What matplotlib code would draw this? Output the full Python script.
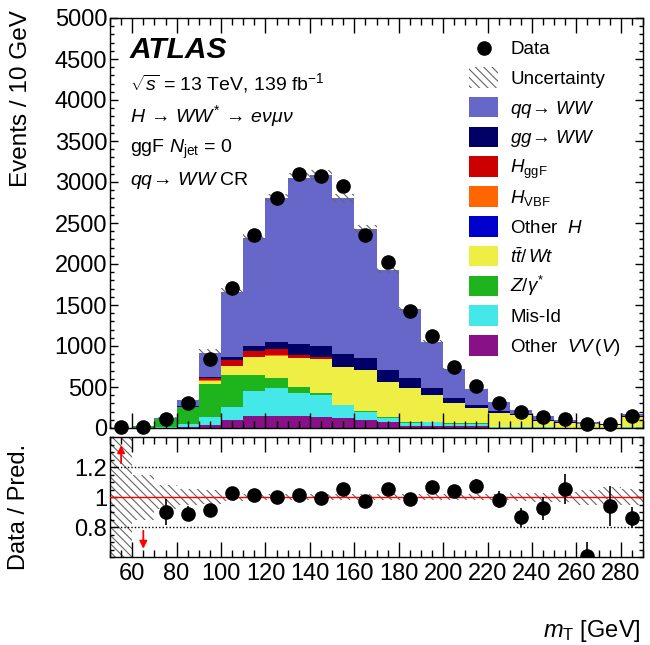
import numpy as np
import matplotlib
matplotlib.use("Agg")
import matplotlib.pyplot as plt
from matplotlib.patches import Rectangle
from matplotlib.lines import Line2D
from matplotlib.ticker import MultipleLocator, FixedLocator, FixedFormatter

plt.rcParams.update({
    "font.family": ["Liberation Sans", "DejaVu Sans"],
    "mathtext.fontset": "custom",
    "mathtext.rm": "Liberation Sans",
    "mathtext.it": "Liberation Sans:italic",
    "mathtext.bf": "Liberation Sans:bold",
    "hatch.linewidth": 0.8,
})

# ---- binning (m_T in GeV) ----
edges = np.arange(50, 300, 10)
centers = 0.5 * (edges[:-1] + edges[1:])

# ---- observed events per bin ----
data = np.array([8, 10, 110, 300, 840, 1711, 2354, 2801, 3097, 3073, 2951, 2354,
                 2028, 1431, 1122, 748, 512, 309, 191, 138, 106, 43, 49, 151])

# ---- expected backgrounds / signal (stack order: bottom -> top) ----
other_vvv = [0, 1, 3, 8, 40, 98, 146, 150, 146, 138, 118, 100,
             70, 30, 30, 22, 20, 6, 5, 3, 2, 2, 2, 4]
mis_id = [1, 2, 6, 35, 90, 162, 305, 334, 277, 264, 163, 93,
          50, 30, 40, 30, 30, 8, 6, 4, 3, 2, 2, 4]
z_gamma = [3, 19, 95, 209, 405, 386, 195, 129, 73, 21, 5, 20,
           15, 8, 7, 5, 5, 2, 1, 1, 0.5, 0.5, 0.5, 1]
top_wt = [0, 1, 3, 10, 42, 110, 214, 265, 354, 418, 455, 490,
          427, 414, 323, 243, 184, 169, 145, 82, 60, 45, 38, 125]
other_h = [0, 0, 0, 1, 2, 3, 4, 4, 3, 3, 2, 2,
           1, 1, 1, 0.5, 0.5, 0.3, 0.3, 0.2, 0.1, 0.1, 0.1, 0.1]
h_vbf = [0, 0, 0, 0.5, 1, 2, 3, 3, 2, 2, 1, 1,
         1, 0.5, 0.5, 0.3, 0.3, 0.2, 0.2, 0.1, 0.1, 0, 0, 0]
h_ggf = [0, 0, 1, 5, 30, 68, 78, 75, 35, 24, 4, 1,
         1, 0.5, 0.5, 0.2, 0.2, 0.1, 0.1, 0.1, 0, 0, 0, 0]
gg_ww = [0, 0, 1, 3, 8, 41, 59, 92, 131, 134, 154, 143,
         142, 122, 82, 61, 41, 25, 14, 10, 7, 5, 3, 8]
qq_ww = [0, 2, 13, 66, 302, 794, 1315, 1749, 2030, 2081, 1898, 1572,
         1219, 847, 565, 357, 197, 104, 49, 49, 28, 16, 6.5, 33]

# relative total uncertainty on the prediction
rel_unc = [0.6, 0.15, 0.08, 0.055, 0.045, 0.025, 0.02, 0.018, 0.018, 0.018, 0.02, 0.02,
           0.02, 0.022, 0.022, 0.022, 0.022, 0.022, 0.025, 0.03, 0.035, 0.05, 0.065, 0.055]

stack = [
    (other_vvv, "#881188", r"Other  $VV\,(V)$"),
    (mis_id, "#44E8E8", "Mis-Id"),
    (z_gamma, "#1EB41E", r"$Z/\gamma^{*}$"),
    (top_wt, "#EEEE44", r"$t\bar{t}/\,Wt$"),
    (other_h, "#0000CC", r"Other  $H$"),
    (h_vbf, "#FF6600", r"$H_{\mathrm{VBF}}$"),
    (h_ggf, "#CC0000", r"$H_{\mathrm{ggF}}$"),
    (gg_ww, "#000066", r"$gg\!\rightarrow\,WW$"),
    (qq_ww, "#6767CA", r"$qq\!\rightarrow\,WW$"),
]

W, H = 650, 645
fig = plt.figure(figsize=(W / 100, H / 100), dpi=100)


def fx(px):
    return px / W


def fy(py):
    return 1 - py / H


ax1 = fig.add_axes([fx(110), fy(428), fx(643) - fx(110), fy(18) - fy(428)])
ax2 = fig.add_axes([fx(110), fy(557), fx(643) - fx(110), fy(437) - fy(557)])

# ---- stacked histogram ----
cum = np.zeros(len(centers))
for vals, color, _ in stack:
    vals = np.asarray(vals, dtype=float)
    ax1.stairs(cum + vals, edges, baseline=cum.copy(), fill=True,
               facecolor=color, edgecolor="none", lw=0)
    cum = cum + vals
total = cum
unc = np.asarray(rel_unc) * total

hatch_col = "#666666"
ax1.stairs(total + unc, edges, baseline=total - unc, fill=True, facecolor="none",
           edgecolor=hatch_col, hatch="\\\\\\\\", lw=0)

ax1.errorbar(centers, data, yerr=np.sqrt(data), fmt="o", color="black", ms=9.5,
             elinewidth=1.2, capsize=0, clip_on=False, zorder=5)

ax1.set_xlim(50, 290)
ax1.set_ylim(0, 5000)

# ---- ratio panel ----
ratio = data / total
ratio_err = np.sqrt(data) / total
lo, hi = 0.6, 1.4
band_lo = np.clip(1 - np.asarray(rel_unc), lo, hi)
band_hi = np.clip(1 + np.asarray(rel_unc), lo, hi)
ax2.stairs(band_hi, edges, baseline=band_lo, fill=True, facecolor="none",
           edgecolor=hatch_col, hatch="\\\\\\\\", lw=0)
ax2.axhline(1.0, color="red", lw=1.0, zorder=3)
for yv in (0.8, 1.2):
    ax2.axhline(yv, color="black", lw=1.0, ls=(0, (1, 1.5)), zorder=2)

inside = (ratio >= lo - 1e-9) & (ratio <= hi)
ax2.errorbar(centers[inside], ratio[inside], yerr=ratio_err[inside], fmt="o",
             color="black", ms=9.5, elinewidth=1.2, capsize=0, zorder=5)
for c, r in zip(centers, ratio):
    if r > hi:
        ax2.annotate("", xy=(c, 1.345), xytext=(c, 1.225),
                     arrowprops=dict(arrowstyle="-|>", color="red", lw=1.3,
                                     mutation_scale=11, shrinkA=0, shrinkB=0))
    elif r < lo - 1e-9:
        ax2.annotate("", xy=(c, 0.655), xytext=(c, 0.775),
                     arrowprops=dict(arrowstyle="-|>", color="red", lw=1.3,
                                     mutation_scale=11, shrinkA=0, shrinkB=0))

ax2.set_xlim(50, 290)
ax2.set_ylim(lo, hi)

# ---- axes styling ----
for ax in (ax1, ax2):
    ax.xaxis.set_major_locator(MultipleLocator(20))
    ax.xaxis.set_minor_locator(MultipleLocator(5))
    ax.tick_params(which="both", direction="in", top=True, right=True,
                   labelsize=17, width=1.0)
    ax.tick_params(axis="x", which="major", length=10.8, pad=4)
    ax.tick_params(axis="x", which="minor", length=5.2)
    ax.tick_params(axis="y", which="major", length=5.8, pad=2)
    ax.tick_params(axis="y", which="minor", length=2.9)
    for sp in ax.spines.values():
        sp.set_linewidth(1.0)

ax1.yaxis.set_major_locator(MultipleLocator(500))
ax1.yaxis.set_minor_locator(MultipleLocator(100))
ax1.tick_params(axis="x", labelbottom=False)

ax2.yaxis.set_major_locator(FixedLocator([0.8, 1.0, 1.2]))
ax2.yaxis.set_major_formatter(FixedFormatter(["0.8", "1", "1.2"]))
ax2.yaxis.set_minor_locator(MultipleLocator(0.05))

# ---- axis titles ----
fig.text(fx(21), fy(10), "Events / 10 GeV", rotation=90, ha="center", va="top",
         fontsize=17.5)
fig.text(fx(19), fy(507), "Data / Pred.", rotation=90, ha="center", va="center",
         fontsize=17)
fig.text(fx(641), fy(637), r"$m_{\mathrm{T}}$ [GeV]", ha="right", va="baseline",
         fontsize=17)

# ---- labels ----
fig.text(fx(130), fy(58), "ATLAS", fontsize=21.5, fontweight="bold",
         fontstyle="italic", va="baseline")
info = [
    r"$\sqrt{s}$ = 13 TeV, 139 fb$^{-1}$",
    r"$H\,\rightarrow\,WW^{*}\,\rightarrow\,e\nu\mu\nu$",
    r"ggF $N_{\mathrm{jet}}$ = 0",
    r"$qq\!\rightarrow\,WW$ CR",
]
for i, line in enumerate(info):
    fig.text(fx(130), fy(90 + 31.7 * i), line, fontsize=14, va="baseline")

# ---- legend ----
leg_x0, leg_w, leg_h = 469, 29, 20.5
text_x = 510
base0, pitch = 54, 29.8
entries = [("data", None, "Data"), ("unc", None, "Uncertainty")]
entries += [("box", color, label) for _, color, label in reversed(stack)]
for i, (kind, color, label) in enumerate(entries):
    yb = base0 + pitch * i
    yc = yb - 6.5
    if kind == "data":
        fig.add_artist(Line2D([fx(leg_x0 + leg_w / 2)], [fy(yc)], marker="o",
                              color="black", ms=9.5, transform=fig.transFigure))
    elif kind == "unc":
        fig.add_artist(Rectangle((fx(leg_x0), fy(yc + leg_h / 2)), fx(leg_w),
                                 fy(0) - fy(leg_h), facecolor="none",
                                 edgecolor=hatch_col, hatch="\\\\\\\\", lw=0,
                                 transform=fig.transFigure))
    else:
        fig.add_artist(Rectangle((fx(leg_x0), fy(yc + leg_h / 2)), fx(leg_w),
                                 fy(0) - fy(leg_h), facecolor=color,
                                 edgecolor="none", lw=0, transform=fig.transFigure))
    fig.text(fx(text_x), fy(yb), label, fontsize=13.5, va="baseline")

fig.savefig("out.png", dpi=100)
